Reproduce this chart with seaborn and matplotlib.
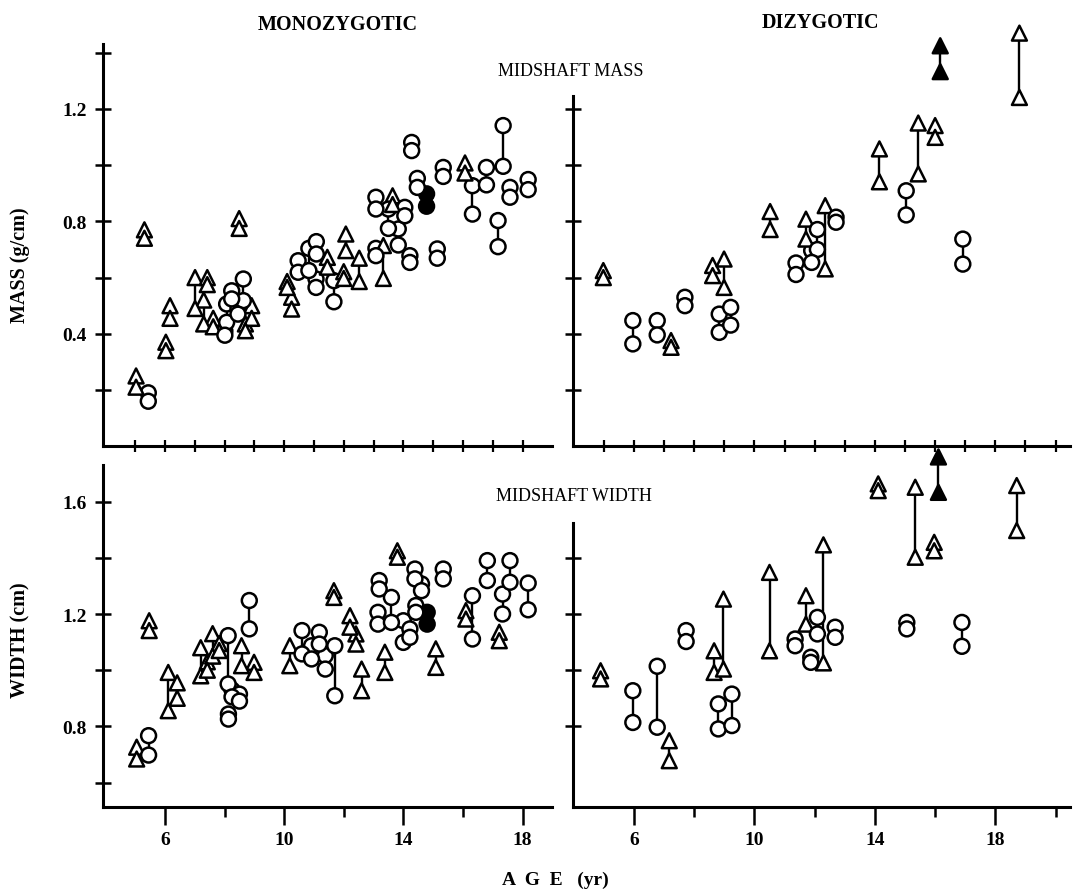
import numpy as np
import pandas as pd
import seaborn as sns
import matplotlib.pyplot as plt

# t = open triangle, c = open circle, T / C = filled; each row is one twin pair
mz_mass_age = [5.03, 5.44, 5.31, 6.03, 6.17, 7.01, 7.42, 7.30, 7.62, 8.63, 8.24, 8.07, 8.45, 8.01,
               8.91, 8.70, 8.49, 10.10, 10.25, 10.47, 10.83, 11.08, 11.07, 11.45, 11.67, 12.07,
               12.00, 12.52, 13.08, 13.33, 13.08, 13.64, 13.50, 13.83, 14.05, 14.22, 14.28, 14.47,
               14.78, 15.14, 15.34, 16.07, 16.32, 16.79, 17.35, 17.18, 17.58, 18.19]
mz_mass_hi = [0.25, 0.19, 0.77, 0.37, 0.50, 0.60, 0.60, 0.52, 0.455, 0.595, 0.553, 0.506, 0.49, 0.41,
              0.50, 0.435, 0.81, 0.586, 0.53, 0.66, 0.704, 0.728, 0.595, 0.672, 0.589, 0.755,
              0.621, 0.669, 0.704, 0.714, 0.886, 0.891, 0.844, 0.773, 0.85, 0.678, 1.081, 0.953,
              0.898, 0.702, 0.992, 1.008, 0.927, 0.992, 1.141, 0.803, 0.921, 0.949]
mz_mass_lo = [0.21, 0.16, 0.74, 0.34, 0.455, 0.49, 0.575, 0.435, 0.425, 0.518, 0.524, 0.441, 0.47, 0.395,
              0.455, 0.411, 0.775, 0.565, 0.488, 0.619, 0.625, 0.684, 0.565, 0.637, 0.514, 0.696,
              0.597, 0.586, 0.678, 0.597, 0.844, 0.86, 0.775, 0.716, 0.82, 0.654, 1.052, 0.921,
              0.854, 0.669, 0.96, 0.972, 0.826, 0.93, 0.996, 0.71, 0.886, 0.913]
mz_mass_kind = ['t', 'c', 't', 't', 't', 't', 't', 't', 't', 'c', 'c', 'c', 'c', 'c',
                't', 't', 't', 't', 't', 'c', 'c', 'c', 'c', 't', 'c', 't',
                't', 't', 'c', 't', 'c', 't', 'c', 'c', 'c', 'c', 'c', 'c',
                'C', 'c', 'c', 't', 'c', 'c', 'c', 'c', 'c', 'c']

dz_mass_age = [4.98, 5.96, 6.77, 7.23, 7.69, 8.61, 8.99, 8.83, 9.21, 10.52, 11.38, 11.71, 12.35,
               12.09, 11.90, 12.71, 14.15, 15.44, 16.00, 15.04, 16.17, 18.80, 16.92]
dz_mass_hi = [0.625, 0.447, 0.447, 0.376, 0.53, 0.643, 0.666, 0.47, 0.494, 0.835, 0.652, 0.808, 0.856,
              0.771, 0.696, 0.815, 1.058, 1.15, 1.141, 0.909, 1.425, 1.47, 0.737]
dz_mass_lo = [0.60, 0.364, 0.396, 0.352, 0.50, 0.607, 0.565, 0.405, 0.431, 0.771, 0.611, 0.737, 0.631,
              0.70, 0.654, 0.797, 0.941, 0.969, 1.099, 0.823, 1.333, 1.241, 0.648]
dz_mass_kind = ['t', 'c', 'c', 't', 'c', 't', 't', 'c', 'c', 't', 'c', 't', 't',
                'c', 'c', 'c', 't', 't', 't', 'c', 'T', 't', 'c']

mz_width_age = [5.05, 5.45, 5.47, 6.11, 6.41, 7.20, 7.60, 7.82, 7.42, 8.12, 8.25, 8.50, 8.13, 8.83,
                8.57, 8.99, 10.19, 10.60, 11.18, 10.92, 11.38, 11.70, 11.67, 12.21, 12.41, 12.60,
                13.38, 13.80, 13.19, 13.15, 13.60, 14.00, 14.22, 14.39, 14.61, 14.42, 14.80, 15.09,
                15.34, 16.10, 16.32, 16.82, 17.58, 17.33, 17.22, 18.19]
mz_width_hi = [0.726, 0.767, 1.176, 0.992, 0.955, 1.08, 1.13, 1.095, 1.03, 1.123, 0.93, 0.915, 0.844, 1.248,
               1.087, 1.028, 1.087, 1.141, 1.135, 1.087, 1.052, 1.087, 1.283, 1.194, 1.129, 1.004,
               1.064, 1.425, 1.319, 1.206, 1.259, 1.176, 1.147, 1.36, 1.307, 1.23, 1.206, 1.076,
               1.36, 1.212, 1.265, 1.39, 1.39, 1.271, 1.135, 1.31]
mz_width_lo = [0.684, 0.698, 1.141, 0.856, 0.90, 0.98, 1.05, 1.07, 1.00, 0.951, 0.905, 0.89, 0.826, 1.147,
               1.016, 0.992, 1.016, 1.058, 1.093, 1.04, 1.004, 0.909, 1.259, 1.153, 1.093, 0.927,
               0.992, 1.402, 1.289, 1.164, 1.17, 1.099, 1.117, 1.325, 1.283, 1.206, 1.164, 1.01,
               1.325, 1.182, 1.111, 1.319, 1.313, 1.20, 1.105, 1.215]
mz_width_kind = ['t', 'c', 't', 't', 't', 't', 't', 't', 't', 'c', 'c', 'c', 'c', 'c',
                 't', 't', 't', 'c', 'c', 'c', 'c', 'c', 't', 't', 't', 't',
                 't', 't', 'c', 'c', 'c', 'c', 'c', 'c', 'c', 'c', 'C', 't',
                 'c', 't', 'c', 'c', 'c', 'c', 't', 'c']

dz_width_age = [4.89, 5.96, 6.77, 7.17, 7.73, 8.66, 8.97, 8.80, 9.25, 10.50, 11.35, 11.71, 12.09,
                11.87, 12.29, 12.68, 14.11, 15.34, 15.97, 16.11, 18.71, 15.06, 16.89]
dz_width_hi = [0.998, 0.927, 1.014, 0.749, 1.141, 1.069, 1.253, 0.88, 0.915, 1.348, 1.111, 1.265, 1.188,
               1.046, 1.446, 1.153, 1.663, 1.651, 1.455, 1.759, 1.657, 1.17, 1.17]
dz_width_lo = [0.969, 0.814, 0.797, 0.678, 1.102, 0.992, 1.004, 0.791, 0.803, 1.069, 1.087, 1.164, 1.129,
               1.028, 1.026, 1.117, 1.639, 1.402, 1.425, 1.633, 1.497, 1.147, 1.085]
dz_width_kind = ['t', 'c', 'c', 't', 'c', 't', 't', 'c', 'c', 't', 'c', 't', 'c',
                 'c', 't', 'c', 't', 't', 't', 'T', 't', 'c', 'c']

sns.set_style('white')
plt.rcParams['font.family'] = ['Liberation Serif', 'DejaVu Serif']
plt.rcParams['text.color'] = 'black'
plt.rcParams['xtick.color'] = 'black'
plt.rcParams['ytick.color'] = 'black'

W, H = 1075, 895
fig = plt.figure(figsize=(W / 100, H / 100), dpi=100)


def px_axes(x0, x1, y0, y1):
    ax = fig.add_axes([x0 / W, 1 - y1 / H, (x1 - x0) / W, (y1 - y0) / H])
    ax.set_facecolor('none')
    return ax


def draw_pairs(ax, age, hi, lo, kind):
    ax.vlines(age, lo, hi, color='black', lw=1.7, zorder=1)
    df = pd.DataFrame({'age': age + age, 'value': hi + lo, 'kind': kind + kind})
    levels = sorted(set(kind))
    face = {'t': 'white', 'c': 'white', 'T': 'black', 'C': 'black'}
    shape = {'t': '^', 'c': 'o', 'T': '^', 'C': 'o'}
    sns.scatterplot(data=df, x='age', y='value', hue='kind', style='kind',
                    palette={k: face[k] for k in levels},
                    markers={k: shape[k] for k in levels},
                    edgecolor='black', linewidth=1.8, s=115, legend=False,
                    ax=ax, zorder=2, clip_on=False)
    ax.set_xlabel('')
    ax.set_ylabel('')


def style_axes(ax, ybounds):
    for side in ['top', 'right']:
        ax.spines[side].set_visible(False)
    for side in ['left', 'bottom']:
        ax.spines[side].set_linewidth(2.2)
        ax.spines[side].set_color('black')
    ax.spines['left'].set_bounds(*ybounds)


mass_lim = (0.0007, 1.4847)
width_lim = (0.5132, 1.7943)

ax_tl = px_axes(103, 552, 30, 447)
ax_tr = px_axes(573, 1070, 30, 447)
ax_bl = px_axes(103, 552, 448, 808)
ax_br = px_axes(573, 1070, 448, 808)

draw_pairs(ax_tl, mz_mass_age, mz_mass_hi, mz_mass_lo, mz_mass_kind)
draw_pairs(ax_tr, dz_mass_age, dz_mass_hi, dz_mass_lo, dz_mass_kind)
draw_pairs(ax_bl, mz_width_age, mz_width_hi, mz_width_lo, mz_width_kind)
draw_pairs(ax_br, dz_width_age, dz_width_hi, dz_width_lo, dz_width_kind)

for ax in [ax_tl, ax_bl]:
    ax.set_xlim(3.92, 18.99)
for ax in [ax_tr, ax_br]:
    ax.set_xlim(3.973, 20.48)
for ax in [ax_tl, ax_tr]:
    ax.set_ylim(*mass_lim)
for ax in [ax_bl, ax_br]:
    ax.set_ylim(*width_lim)

style_axes(ax_tl, (mass_lim[0], 1.43))
style_axes(ax_tr, (mass_lim[0], 1.247))
style_axes(ax_bl, (width_lim[0], 1.73))
style_axes(ax_br, (width_lim[0], 1.525))

lab_font = dict(fontsize=14, fontweight='bold')

# top row: a tick every year across the shared axis, no labels
ax_tl.set_xticks(np.arange(5, 19))
ax_tr.set_xticks(np.arange(5, 21))
for ax in [ax_tl, ax_tr]:
    ax.set_xticklabels([])
    ax.tick_params(axis='x', direction='inout', length=9, width=1.6, color='black')
    ax.tick_params(axis='y', direction='inout', length=11, width=1.8, color='black')

mass_ticks = [0.2, 0.4, 0.6, 0.8, 1.0, 1.2, 1.4]
ax_tl.set_yticks(mass_ticks)
ax_tl.set_yticklabels(['', '0.4', '', '0.8', '', '1.2', ''], **lab_font)
ax_tr.set_yticks(mass_ticks[:-1])
ax_tr.set_yticklabels([])

# bottom row
for ax, minors in [(ax_bl, [8, 12, 16]), (ax_br, [8, 12, 16, 20])]:
    ax.set_xticks([6, 10, 14, 18])
    ax.set_xticklabels(['6', '10', '14', '18'], **lab_font)
    ax.set_xticks(minors, minor=True)
    ax.tick_params(axis='x', which='major', direction='out', length=13, width=1.8,
                   color='black', pad=4, bottom=True)
    ax.tick_params(axis='x', which='minor', direction='out', length=7, width=1.8,
                   color='black', bottom=True)
    ax.tick_params(axis='y', direction='inout', length=11, width=1.8, color='black')

ax_bl.set_yticks([0.6, 0.8, 1.0, 1.2, 1.4, 1.6])
ax_bl.set_yticklabels(['', '0.8', '', '1.2', '', '1.6'], **lab_font)
ax_br.set_yticks([0.8, 1.0, 1.2, 1.4])
ax_br.set_yticklabels([])

for ax in [ax_tl, ax_tr, ax_bl, ax_br]:
    ax.tick_params(axis='y', left=True, pad=6)
    ax.tick_params(axis='x', bottom=True)


def ftext(x, y, s, **kw):
    fig.text(x / W, 1 - y / H, s, ha='center', va='center', **kw)


ftext(338, 25, 'MONOZYGOTIC', fontsize=14.5, fontweight='bold')
ftext(821, 23, 'DIZYGOTIC', fontsize=14.5, fontweight='bold')
ftext(571, 71, 'MIDSHAFT MASS', fontsize=13)
ftext(574, 497, 'MIDSHAFT WIDTH', fontsize=13)
ftext(20, 265, 'MASS (g/cm)', fontsize=14.5, fontweight='bold', rotation=90)
ftext(20, 640, 'WIDTH (cm)', fontsize=14.5, fontweight='bold', rotation=90)
ftext(555, 880, 'A  G  E   (yr)', fontsize=14, fontweight='bold')

fig.savefig('out.png', dpi=100)
